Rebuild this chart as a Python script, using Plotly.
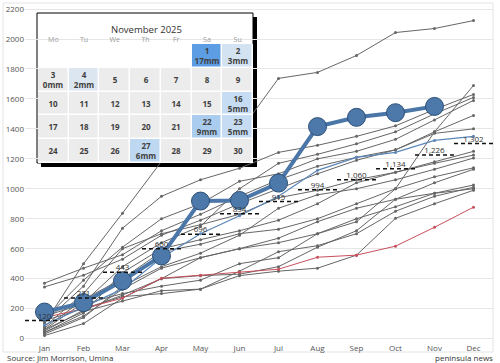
import plotly.graph_objects as go

months = ["Jan", "Feb", "Mar", "Apr", "May", "Jun", "Jul", "Aug", "Sep", "Oct", "Nov", "Dec"]

# historical cumulative rainfall (mm), one list per year
hist_years = [
    [100, 500, 837, 1183, 1300, 1380, 1737, 1777, 1890, 2043, 2070, 2123],
    [40, 150, 330, 470, 540, 600, 640, 700, 780, 1000, 1380, 1690],
    [110, 350, 737, 950, 1060, 1137, 1243, 1290, 1350, 1420, 1530, 1630],
    [60, 240, 480, 640, 750, 1000, 1170, 1230, 1300, 1380, 1500, 1610],
    [130, 390, 610, 800, 900, 1050, 1100, 1200, 1250, 1330, 1460, 1590],
    [370, 470, 560, 720, 830, 950, 1060, 1150, 1210, 1260, 1380, 1490],
    [345, 423, 530, 690, 790, 900, 1000, 1100, 1190, 1260, 1370, 1400],
    [80, 300, 600, 700, 760, 830, 940, 990, 1060, 1110, 1180, 1250],
    [40, 170, 440, 600, 660, 720, 790, 900, 1040, 1110, 1170, 1225],
    [30, 140, 350, 480, 570, 690, 870, 960, 1000, 1060, 1130, 1205],
    [70, 260, 400, 580, 630, 700, 730, 800, 900, 1000, 1080, 1140],
    [50, 190, 290, 400, 540, 600, 670, 780, 870, 930, 1040, 1130],
    [150, 230, 300, 350, 390, 500, 540, 700, 800, 880, 970, 1025],
    [60, 180, 250, 320, 330, 450, 580, 620, 700, 850, 950, 1010],
    [20, 100, 270, 400, 420, 430, 480, 610, 720, 930, 970, 1000],
    [120, 200, 280, 300, 330, 420, 450, 470, 557, 803, 900, 990],
]
red_year = [140, 200, 270, 403, 423, 443, 463, 543, 557, 617, 743, 877]
last_year = [90, 210, 330, 540, 700, 820, 950, 1123, 1210, 1243, 1323, 1350]
current_year = [177, 240, 385, 552, 918, 922, 1038, 1415, 1477, 1508, 1550]
monthly_avg = [120, 271, 443, 600, 696, 834, 915, 994, 1060, 1134, 1226, 1302]

# November 2025 daily rainfall (mm) for days with readings
cal_title = "November 2025"
weekdays = ["Mo", "Tu", "We", "Th", "Fr", "Sa", "Su"]
first_weekday = 5  # Nov 1 2025 = Saturday
days_in_month = 30
daily_rain = {1: 17, 2: 3, 3: 0, 4: 2, 16: 5, 22: 9, 23: 5, 27: 6}

FONT = "Open Sans"
fig = go.Figure()
mx = list(range(len(months)))

for ys in hist_years:
    fig.add_trace(go.Scatter(x=mx, y=ys, mode="lines+markers",
                             line=dict(color="#666666", width=1),
                             marker=dict(size=3, color="#666666"),
                             showlegend=False, hoverinfo="skip"))
fig.add_trace(go.Scatter(x=mx, y=red_year, mode="lines+markers",
                         line=dict(color="#c8505c", width=1),
                         marker=dict(size=3, color="#c8505c"), showlegend=False))
fig.add_trace(go.Scatter(x=mx, y=last_year, mode="lines+markers",
                         line=dict(color="#5b86b8", width=1.2),
                         marker=dict(size=3, color="#5b86b8"), showlegend=False))

# main current-year series
fig.add_trace(go.Scatter(x=mx[:len(current_year)], y=current_year, mode="lines+markers",
                         line=dict(color="#4a76a8", width=4),
                         marker=dict(size=18, color="#4c79aa", line=dict(color="#2c4f78", width=1)),
                         showlegend=False))

# average step dashes
dx, dy = [], []
for i, v in enumerate(monthly_avg):
    dx += [i - 0.5, i + 0.5, None]
    dy += [v, v, None]
fig.add_trace(go.Scatter(x=dx, y=dy, mode="lines",
                         line=dict(color="#111111", width=1.5, dash="4px,3px"),
                         showlegend=False))
fig.add_trace(go.Scatter(x=mx, y=monthly_avg, mode="text",
                         text=[f"{v:,}" for v in monthly_avg], textposition="top center",
                         textfont=dict(family=FONT, size=8, color="#333333"),
                         showlegend=False))

# calendar heatmap
n_weeks = (first_weekday + days_in_month + 6) // 7
z = [[None] * 7 for _ in range(n_weeks)]
txt = [[""] * 7 for _ in range(n_weeks)]
for d in range(1, days_in_month + 1):
    pos = first_weekday + d - 1
    r, c = divmod(pos, 7)
    if d in daily_rain:
        z[r][c] = daily_rain[d]
        txt[r][c] = f"<b>{d}</b><br><b>{daily_rain[d]}mm</b>"
    else:
        z[r][c] = 0
        txt[r][c] = f"<b>{d}</b>"

fig.add_trace(go.Heatmap(z=z, x=list(range(7)), y=list(range(n_weeks)), text=txt,
                         texttemplate="%{text}",
                         textfont=dict(family=FONT, size=8, color="#404040"),
                         colorscale=[[0, "#ececec"], [0.1, "#ececec"], [0.11, "#dce6f1"],
                                     [0.3, "#c5dcf2"], [0.53, "#a9ccef"], [1, "#5c9de3"]],
                         zmin=0, zmax=17, xgap=1.5, ygap=1.5, showscale=False,
                         xaxis="x2", yaxis="y2", hoverinfo="skip"))

PL, PR, PT, PB = 25, 7, 5, 21
W, H = 500, 363
pw, ph = W - PL - PR, H - PT - PB

def px(xp):
    return (xp - PL) / pw

def py(yp):
    return (H - PB - yp) / ph

cx0, cx1, cy_top, cy_bot = 38, 253, 44, 163
fig.update_layout(
    width=W, height=H,
    margin=dict(l=PL, r=PR, t=PT, b=PB),
    paper_bgcolor="white", plot_bgcolor="white",
    font=dict(family=FONT, size=8, color="#555555"),
    xaxis=dict(range=[-0.5, 11.5], tickvals=mx, ticktext=months, showgrid=False, automargin=False,
               zeroline=False, showline=False, ticks="", tickfont=dict(size=8, color="#555")),
    yaxis=dict(range=[-23, 2227], tickvals=list(range(0, 2201, 200)), showgrid=True, automargin=False,
               gridcolor="#e6e6e6", gridwidth=1, zeroline=False, showline=False, ticks="",
               tickfont=dict(size=8, color="#555")),
    xaxis2=dict(domain=[px(cx0), px(cx1)], anchor="y2", side="top", range=[-0.5, 6.5],
                tickvals=list(range(7)), ticktext=weekdays, showgrid=False, zeroline=False,
                automargin=False, showline=False, ticks="", tickfont=dict(size=7, color="#9a9a9a")),
    yaxis2=dict(domain=[py(cy_bot), py(cy_top)], anchor="x2", range=[n_weeks - 0.5, -0.5],
                automargin=False, showticklabels=False, showgrid=False, zeroline=False, showline=False),
    shapes=[
        dict(type="rect", xref="paper", yref="paper", x0=px(3), x1=px(493), y0=py(352), y1=py(3),
             line=dict(color="#e4e4e4", width=1), fillcolor="rgba(0,0,0,0)", layer="below"),
        # card shadow and card
        dict(type="rect", xref="x2 domain", yref="y2 domain",
             x0=(41 - cx0) / (cx1 - cx0), x1=(257 - cx0) / (cx1 - cx0),
             y0=(cy_bot - 167) / (cy_bot - cy_top), y1=(cy_bot - 17) / (cy_bot - cy_top),
             fillcolor="#000000", line=dict(width=0), layer="below"),
        dict(type="rect", xref="x2 domain", yref="y2 domain",
             x0=(37 - cx0) / (cx1 - cx0), x1=(253 - cx0) / (cx1 - cx0),
             y0=(cy_bot - 163) / (cy_bot - cy_top), y1=(cy_bot - 13) / (cy_bot - cy_top),
             fillcolor="#ffffff", line=dict(color="#000000", width=1), layer="below"),
    ],
    annotations=[
        dict(text=cal_title, xref="paper", yref="paper",
             x=px(146), y=py(29), xanchor="center", yanchor="middle",
             showarrow=False, font=dict(family=FONT, size=9.5, color="#333333")),
        dict(text="Source: Jim Morrison, Umina", xref="paper", yref="paper",
             x=px(5), y=py(357), xanchor="left", yanchor="middle", showarrow=False,
             font=dict(family=FONT, size=8, color="#333333")),
        dict(text="peninsula news", xref="paper", yref="paper",
             x=px(495), y=py(357), xanchor="right", yanchor="middle", showarrow=False,
             font=dict(family=FONT, size=8, color="#333333")),
    ],
)

fig.write_html("out.html", config={"displayModeBar": False},
               post_script="document.body.style.margin='0';")
